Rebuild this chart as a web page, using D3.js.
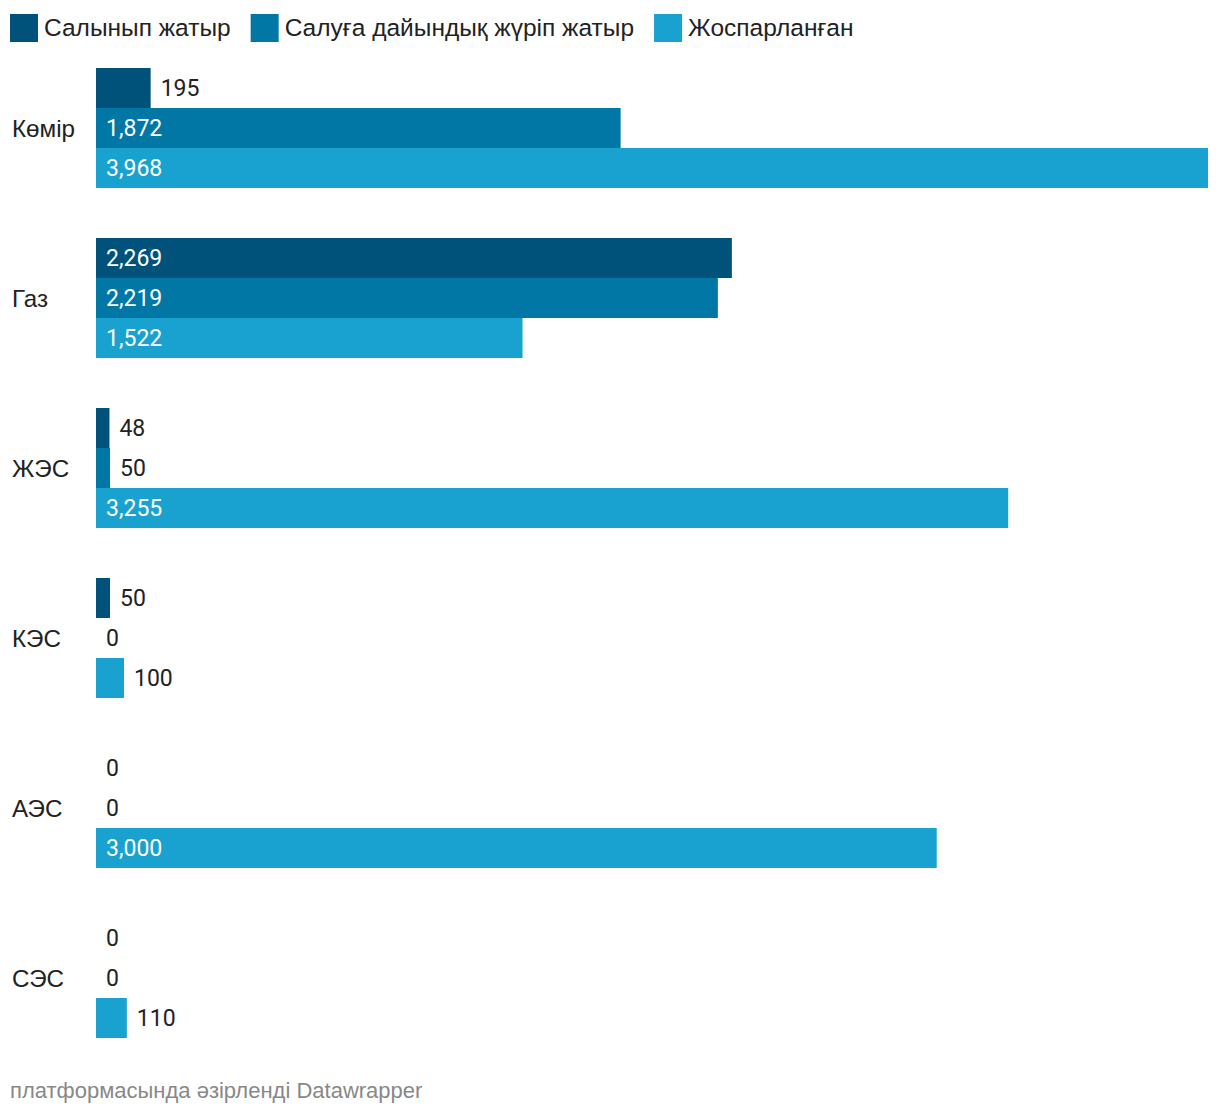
<!DOCTYPE html>
<html><head><meta charset="utf-8">
<script src="https://cdn.jsdelivr.net/npm/d3@7"></script>
<style>body{margin:0;background:#fff;}</style>
</head><body>
<script>
const categories = ["Көмір","Газ","ЖЭС","КЭС","АЭС","СЭС"];
const seriesNames = ["Салынып жатыр","Салуға дайындық жүріп жатыр","Жоспарланған"];
const building = [195,2269,48,50,0,0];
const preparing = [1872,2219,50,0,0,0];
const planned = [3968,1522,3255,100,3000,110];
const colors = ["#00527b","#0077a4","#19a2cf"];
const footer = "платформасында әзірленді Datawrapper";

const W=1220,H=1116;
const svg=d3.select("body").append("svg").attr("width",W).attr("height",H);
const series=[building,preparing,planned];

const x=d3.scaleLinear().domain([0,3968]).range([96,1208]);
const y0b=d3.scalePoint().domain(categories).range([68,68+170*5]);
const y1=d3.scaleBand().domain([0,1,2]).range([0,120]);

// legend
const leg=svg.append("g");
let lx=10;
seriesNames.forEach((n,i)=>{
  leg.append("rect").attr("x",lx).attr("y",14).attr("width",28).attr("height",28).attr("fill",colors[i]);
  const t=leg.append("text").attr("x",lx+34).attr("y",27).attr("dominant-baseline","central")
    .attr("font-family","Liberation Sans, Arial, sans-serif").attr("font-size",24.5).attr("fill","#222").text(n);
  lx += 34 + t.node().getComputedTextLength() + 20;
});

categories.forEach((c,ci)=>{
  const gy=y0b(c);
  svg.append("text").attr("x",12).attr("y",gy+60).attr("dominant-baseline","central")
    .attr("font-family","Liberation Sans, Arial, sans-serif").attr("font-size",24.2).attr("fill","#222").text(c);
  series.forEach((s,si)=>{
    const v=s[ci];
    const by=gy+y1(si), bh=y1.bandwidth();
    if(v>0) svg.append("rect").attr("x",x(0)).attr("y",by).attr("width",x(v)-x(0)).attr("height",bh).attr("fill",colors[si]);
    const label=d3.format(",")(v);
    const inside=(x(v)-x(0))>100;
    svg.append("text")
      .attr("x", inside? x(0)+10 : (v>0? x(v)+10 : x(0)+10))
      .attr("y",by+bh/2).attr("dominant-baseline","central")
      .attr("font-family","Roboto, sans-serif").attr("font-size",23)
      .attr("fill", inside? "#fff":"#222").text(label);
  });
});

svg.append("text").attr("x",10).attr("y",1090).attr("dominant-baseline","central")
  .attr("font-family","Liberation Sans, Arial, sans-serif").attr("font-size",22).attr("fill","#888").text(footer);
</script>
</body></html>
